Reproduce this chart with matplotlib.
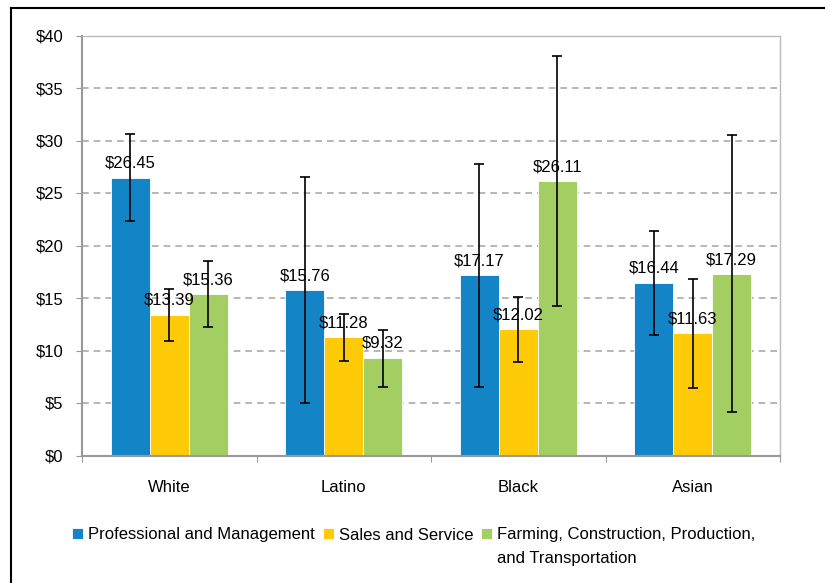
import matplotlib
matplotlib.use('Agg')
import matplotlib.pyplot as plt
from matplotlib.lines import Line2D
import numpy as np

plt.rcParams['font.family'] = ['Liberation Sans', 'DejaVu Sans']
fs = 12

# data
groups = ['White', 'Latino', 'Black', 'Asian']
series = ['Professional and Management', 'Sales and Service',
          'Farming, Construction, Production,\nand Transportation']
values = [
    [26.45, 15.76, 17.17, 16.44],
    [13.39, 11.28, 12.02, 11.63],
    [15.36, 9.32, 26.11, 17.29],
]
# interval ends of the error bars
err_low = [
    [22.3, 5.0, 6.5, 11.5],
    [10.9, 9.0, 8.9, 6.4],
    [12.2, 6.55, 14.2, 4.1],
]
err_high = [
    [30.6, 26.5, 27.8, 21.4],
    [15.9, 13.5, 15.1, 16.8],
    [18.5, 12.0, 38.05, 30.5],
]
colors = ['#1385C6', '#FFCA08', '#A3CF62']
yticks = [0, 5, 10, 15, 20, 25, 30, 35, 40]

fig = plt.figure(figsize=(8.25, 5.83), dpi=100)
ax = fig.add_axes([82 / 825, 1 - 455.5 / 583, (780 - 82) / 825, (455.5 - 35.5) / 583])

x = np.arange(len(groups))
w = 0.2235
handles = []
for i, (name, vals) in enumerate(zip(series, values)):
    pos = x + (i - 1) * w
    lo = np.array(vals) - np.array(err_low[i])
    hi = np.array(err_high[i]) - np.array(vals)
    b = ax.bar(pos, vals, width=w, color=colors[i], edgecolor='white', linewidth=0.6,
               zorder=2)
    ax.errorbar(pos, vals, yerr=[lo, hi], fmt='none', ecolor='black', elinewidth=1.2,
                capsize=3.5, capthick=1.2, zorder=4)
    for px, v in zip(pos, vals):
        ax.annotate(f'${v:.2f}', (px, v), xytext=(0, 5), textcoords='offset points',
                    ha='center', va='bottom', fontsize=fs, zorder=5)
    handles.append(b)

ax.set_xlim(-0.5, 3.5)
ax.set_ylim(0, 40)
ax.set_yticks(yticks)
ax.set_yticklabels([f'${t}' for t in yticks], fontsize=fs)
ax.set_xticks(np.arange(-0.5, 4.0, 1.0))
ax.set_xticklabels([])
ax.set_xticks(x, minor=True)
ax.set_xticklabels(groups, minor=True, fontsize=fs)
ax.tick_params(axis='x', which='minor', length=0, pad=18)
ax.tick_params(axis='x', which='major', length=4.3, color='#999999', direction='out')
ax.tick_params(axis='y', length=4.3, color='#999999', pad=9)
ax.yaxis.grid(True, linestyle=(0, (4, 3)), color='#aaaaaa', linewidth=1.2, zorder=0)
ax.set_axisbelow(True)
for s in ['left', 'bottom']:
    ax.spines[s].set_color('#999999')
    ax.spines[s].set_linewidth(1.5)
for s in ['top', 'right']:
    ax.spines[s].set_color('#bbbbbb')
    ax.spines[s].set_linewidth(1.0)

# legend: first line of each name in the legend, the wrap of the last one below it
first_lines = [s.split('\n')[0] for s in series]
leg = fig.legend(handles=handles, labels=first_lines, loc='center left',
                 bbox_to_anchor=(72 / 825, 1 - 535 / 583),
                 ncol=3, frameon=False, fontsize=fs, handlelength=0.68, handleheight=0.68,
                 handletextpad=0.3, columnspacing=0.45, borderaxespad=0, borderpad=0)
fig.canvas.draw()
last = leg.get_texts()[-1]
bb = last.get_window_extent().transformed(fig.transFigure.inverted())
fig.text(bb.x0, 1 - 558 / 583, series[-1].split('\n')[1], fontsize=fs,
         ha='left', va='center')

# outer frame (top and left edges visible)
fig.add_artist(Line2D([11 / 825, 1], [1 - 8 / 583, 1 - 8 / 583], color='black', lw=1.5,
                      transform=fig.transFigure))
fig.add_artist(Line2D([11 / 825, 11 / 825], [0, 1 - 8 / 583], color='black', lw=1.5,
                      transform=fig.transFigure))

fig.savefig('out.png', dpi=100)
